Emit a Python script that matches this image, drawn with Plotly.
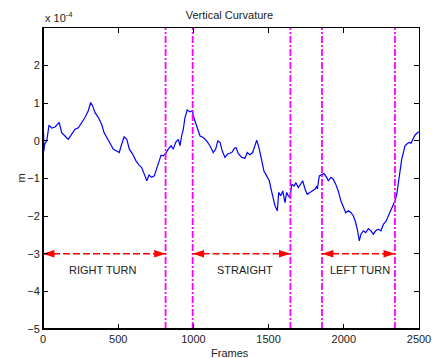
import plotly.graph_objects as go

# Curve (frames, vertical curvature in units of 1e-4 m)
frames = [0, 2, 4, 6, 10, 25, 40, 58, 80, 108, 124, 146, 168, 191, 213, 235, 257, 279, 301, 317, 330, 346,
          368, 390, 406, 424, 445, 467, 490, 507, 523, 539, 557, 574, 596, 618, 640, 656, 678, 690, 705, 723,
          740, 756, 771, 785, 800, 816, 833, 851, 866, 882, 900, 911, 922, 933, 944, 959, 977, 993, 1006,
          1022, 1044, 1066, 1088, 1110, 1132, 1148, 1162, 1177, 1192, 1210, 1228, 1255, 1272, 1283, 1299,
          1321, 1343, 1358, 1376, 1394, 1410, 1421, 1438, 1454, 1469, 1487, 1505, 1514, 1527, 1543, 1558,
          1567, 1580, 1594, 1609, 1620, 1631, 1642, 1654, 1669, 1682, 1697, 1713, 1727, 1742, 1757, 1775,
          1793, 1809, 1820, 1824, 1837, 1853, 1868, 1886, 1897, 1915, 1930, 1946, 1963, 1981, 1997, 2013,
          2030, 2048, 2063, 2079, 2092, 2103, 2114, 2130, 2146, 2163, 2181, 2196, 2212, 2229, 2247, 2263,
          2279, 2296, 2314, 2329, 2340, 2352, 2362, 2374, 2385, 2396, 2407, 2418, 2434, 2447, 2462, 2473,
          2491, 2500]
curvature = [-0.2, -0.75, 0.2, -0.27, -0.1, 0.0, 0.42, 0.34, 0.37, 0.49, 0.22, 0.13, 0.04, 0.18, 0.31, 0.35,
             0.49, 0.62, 0.8, 1.02, 0.93, 0.75, 0.62, 0.44, 0.22, 0.09, -0.09, -0.22, -0.27, -0.31, -0.09, 0.11,
             0.04, -0.22, -0.35, -0.53, -0.65, -0.71, -0.93, -1.06, -0.91, -0.97, -0.93, -0.75, -0.58, -0.38,
             -0.40, -0.33, -0.22, -0.13, -0.22, -0.04, 0.04, -0.13, 0.13, 0.31, 0.62, 0.82, 0.77, 0.8, 0.58,
             0.40, 0.13, 0.09, 0.0, -0.13, -0.31, -0.22, 0.0, -0.04, -0.27, -0.44, -0.35, -0.31, -0.20, -0.18,
             -0.34, -0.44, -0.46, -0.31, -0.37, -0.31, -0.13, 0.02, -0.22, -0.53, -0.8, -0.93, -1.06, -1.24,
             -1.46, -1.73, -1.86, -1.37, -1.46, -1.33, -1.64, -1.37, -1.46, -1.51, -1.15, -1.2, -1.11, -1.24,
             -1.15, -1.06, -1.28, -1.42, -1.37, -1.31, -1.28, -1.2, -1.28, -0.93, -0.89, -0.87, -0.97, -1.06,
             -0.97, -1.02, -1.15, -1.33, -1.6, -1.77, -1.91, -1.86, -1.91, -1.99, -2.17, -2.39, -2.66, -2.48,
             -2.39, -2.44, -2.33, -2.39, -2.48, -2.39, -2.35, -2.39, -2.22, -2.15, -1.99, -1.86, -1.73, -1.6,
             -1.42, -1.11, -0.75, -0.49, -0.31, -0.13, -0.09, -0.04, -0.06, 0.04, 0.15, 0.22, 0.24]

# Segment boundaries (frames)
boundaries = [815, 995, 1645, 1855, 2340]

# Arrows: (start, end) and labels
arrow_starts = [0, 995, 1855]
arrow_ends = [815, 1645, 2340]
arrow_level = -3
labels = ["RIGHT TURN", "STRAIGHT", "LEFT TURN"]
label_x = [396, 1343, 2108]
label_y = -3.43

x_ticks = [0, 500, 1000, 1500, 2000, 2500]
y_ticks = [-5, -4, -3, -2, -1, 0, 1, 2]

TXT = "#222222"
FONT = "Liberation Sans"

fig = go.Figure()

fig.add_trace(go.Scatter(x=frames, y=curvature, mode="lines",
                         line=dict(color="#0000ff", width=1.2), showlegend=False))

for b in boundaries:
    fig.add_trace(go.Scatter(x=[b, b], y=[-5, 3], mode="lines",
                             line=dict(color="#ff00ff", width=1.8, dash="7px,2px,2px,2px"),
                             showlegend=False))

for s, e in zip(arrow_starts, arrow_ends):
    fig.add_trace(go.Scatter(x=[s, e], y=[arrow_level, arrow_level], mode="lines",
                             line=dict(color="#ff0000", width=1.6, dash="7px,3px"),
                             showlegend=False))
    fig.add_trace(go.Scatter(x=[s, e], y=[arrow_level, arrow_level], mode="markers",
                             marker=dict(symbol="arrow", size=12, angle=[-90, 90],
                                         color="#ff0000", line=dict(width=0, color="#ff0000")),
                             showlegend=False))

for t, lx in zip(labels, label_x):
    fig.add_annotation(x=lx, y=label_y, text=t, showarrow=False,
                       font=dict(size=11, color=TXT, family=FONT))

fig.add_annotation(xref="paper", yref="paper", x=0, y=1.037, xanchor="left", yanchor="middle",
                   text="x 10<sup>-4</sup>", showarrow=False,
                   font=dict(size=11, color=TXT, family=FONT))
fig.add_annotation(xref="paper", yref="paper", x=0.497, y=-0.08, xanchor="center", yanchor="middle",
                   text="Frames", showarrow=False, font=dict(size=11, color=TXT, family=FONT))
fig.add_annotation(xref="paper", yref="paper", x=-0.061, y=0.5, xanchor="center", yanchor="middle",
                   text="m", textangle=-90, showarrow=False, font=dict(size=11, color=TXT, family=FONT))

# thicker left and bottom axis lines
fig.add_shape(type="line", xref="paper", yref="paper", x0=0, x1=0, y0=0, y1=1,
              line=dict(color="black", width=2))
fig.add_shape(type="line", xref="paper", yref="paper", x0=0, x1=1, y0=0, y1=0,
              line=dict(color="black", width=2))

fig.update_layout(
    width=432, height=358,
    margin=dict(l=43, r=13, t=28, b=29, autoexpand=False),
    paper_bgcolor="white", plot_bgcolor="white",
    hovermode=False,
    font=dict(family=FONT, size=11, color=TXT),
    title=dict(text="Vertical Curvature", x=0.531, xanchor="center", y=0.958, yanchor="middle",
               font=dict(size=11, color=TXT)),
    xaxis=dict(range=[0, 2500], tickvals=x_ticks, ticks="inside", ticklen=5, tickcolor="black",
               showline=True, linecolor="black", linewidth=1, mirror="ticks", showgrid=False,
               zeroline=False, automargin=False),
    yaxis=dict(range=[-5, 3], tickvals=y_ticks, ticks="inside", ticklen=5, tickcolor="black",
               showline=True, linecolor="black", linewidth=1, mirror="ticks", showgrid=False,
               zeroline=False, automargin=False),
)

fig.write_html("out.html", config={"displayModeBar": False},
               post_script="document.body.style.margin='0';document.body.style.overflow='hidden';")
